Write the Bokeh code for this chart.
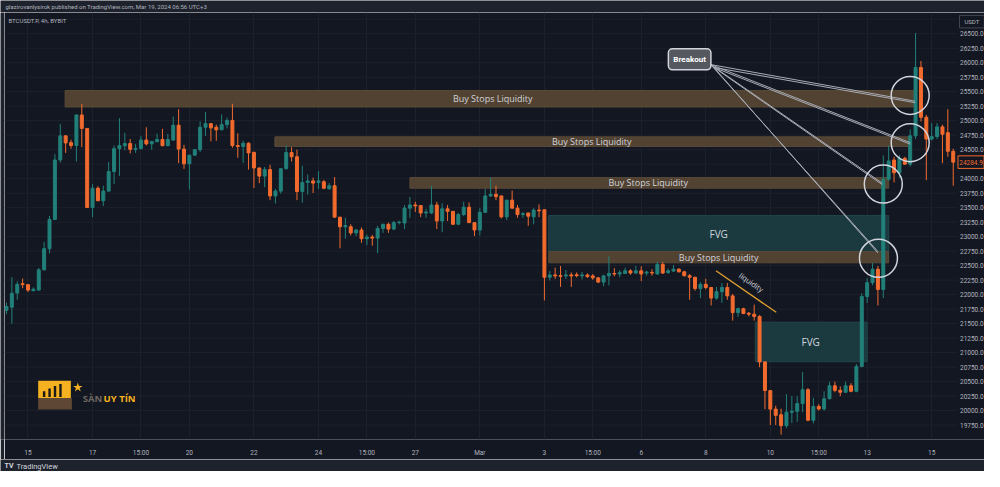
from bokeh.plotting import figure
from bokeh.models import Range1d, FixedTicker, Label
from bokeh.layouts import column, row
from bokeh.embed import file_html
from bokeh.resources import INLINE
from bokeh.core.properties import value

# ---------------- data (BTCUSDT.P 4h, BYBIT) ----------------
opens = [21729, 21783, 22028, 22189, 22172, 22066, 22078, 22427, 22793, 23296,
         24322, 24738, 24621, 24571, 25098, 24866, 23502, 23835, 23619, 23785,
         24122, 24517, 24567, 24605, 24505, 24522, 24666, 24600, 24638, 24676,
         24567, 24666, 24921, 24510, 24256, 24405, 24500, 24887, 24949, 24887,
         24842, 24932, 25004, 24571, 24555, 24610, 24455, 24184, 24044, 24156,
         23702, 23785, 24172, 24450, 24377, 23779, 23935, 23961, 23935, 23945,
         23824, 23878, 23336, 23170, 23170, 23064, 23114, 22964, 22992, 22975,
         23142, 23213, 23130, 23241, 23236, 23491, 23546, 23536, 23408, 23408,
         23546, 23270, 23479, 23436, 23213, 23380, 23508, 23241, 23114, 23419,
         23702, 23729, 23702, 23341, 23629, 23491, 23380, 23408, 23341, 23458,
         23463, 22299, 22339, 22327, 22322, 22339, 22343, 22322, 22339, 22322,
         22289, 22216, 22322, 22365, 22355, 22365, 22410, 22372, 22410, 22372,
         22382, 22355, 22521, 22382, 22405, 22438, 22393, 22327, 22299, 22106,
         22177, 22123, 21940, 22050, 22123, 21978, 21690, 21757, 21679, 21662,
         21624, 20839, 20345, 20025, 19928, 19739, 19971, 19988, 20121, 20360,
         19833, 20071, 20028, 20204, 20427, 20349, 20316, 20427, 20332, 20760,
         21967, 22206, 22438, 22089, 23990, 24322, 24101, 24350, 24250, 24738,
         25918, 25059, 24683, 24726, 24893, 24793, 24472]
highs = [21862, 22299, 22227, 22277, 22180, 22127, 22460, 22909, 23358, 24422,
         24942, 24745, 24671, 25108, 25291, 24870, 23906, 23869, 23878, 24289,
         24571, 25042, 24793, 24683, 24600, 24733, 24887, 24655, 24776, 24859,
         24771, 25070, 25198, 24583, 24410, 24505, 24987, 25153, 24955, 24932,
         25108, 25054, 25291, 24783, 24655, 24627, 24460, 24190, 24201, 24239,
         23824, 24178, 24571, 24543, 24500, 24222, 24073, 24018, 24128, 23978,
         23923, 24028, 23340, 23325, 23213, 23130, 23158, 23037, 23030, 23187,
         23220, 23241, 23270, 23275, 23546, 23685, 23602, 23540, 23479, 23878,
         23602, 23574, 23546, 23440, 23408, 23602, 23590, 23245, 23491, 23824,
         24018, 23878, 23706, 23635, 23795, 23546, 23424, 23412, 23491, 23557,
         23470, 22410, 22465, 22493, 22427, 22382, 22382, 22389, 22365, 22355,
         22295, 22344, 22660, 22455, 22422, 22465, 22438, 22493, 22488, 22410,
         22438, 22565, 22565, 22449, 22510, 22455, 22410, 22355, 22305, 22216,
         22272, 22133, 22133, 22199, 22199, 22011, 21773, 21773, 21700, 21828,
         21645, 20845, 20350, 20083, 20033, 20282, 20248, 20249, 20665, 20388,
         20220, 20111, 20332, 20499, 20499, 20416, 20499, 20472, 20804, 22023,
         22282, 22548, 22493, 24400, 24571, 24377, 24405, 24377, 24849, 26512,
         26030, 25098, 24959, 24959, 24932, 25198, 24517]
lows = [21662, 21496, 21911, 22111, 22045, 22061, 22070, 22420, 22710, 23291,
        24277, 24444, 24517, 24294, 24543, 23500, 23336, 23615, 23529, 23780,
        23906, 24044, 24488, 24434, 24444, 24500, 24571, 24500, 24627, 24565,
        24565, 24655, 24267, 24168, 23812, 24395, 24460, 24738, 24643, 24655,
        24838, 24866, 24533, 24360, 24272, 24156, 23840, 23923, 23852, 23629,
        23574, 23740, 24156, 24294, 23629, 23586, 23724, 23752, 23824, 23818,
        23812, 23330, 22798, 22964, 23020, 23009, 22893, 22854, 22843, 22715,
        23064, 23064, 23114, 23210, 23130, 23325, 23424, 23336, 23325, 23391,
        23130, 23075, 23270, 23203, 23203, 23353, 23236, 23009, 23020, 23408,
        23685, 23629, 23313, 23286, 23479, 23325, 23325, 23187, 23213, 23336,
        21900, 22244, 22272, 22133, 22272, 22133, 22299, 22261, 22289, 22256,
        22199, 22144, 22161, 22315, 22299, 22355, 22344, 22355, 22233, 22327,
        22327, 22344, 22355, 22355, 22394, 22382, 22310, 21911, 22066, 21940,
        22090, 21812, 21911, 21857, 21911, 21551, 21617, 21662, 21624, 21551,
        20748, 20025, 19750, 19750, 19584, 19700, 19784, 19805, 19971, 19816,
        19778, 20000, 20000, 20194, 20316, 20249, 20304, 20316, 20316, 20748,
        21857, 22161, 21812, 21940, 23962, 23935, 24018, 24239, 24210, 24683,
        24987, 23973, 24655, 24683, 24267, 24377, 23878]
closes = [21795, 22023, 22177, 22172, 22078, 22094, 22427, 22793, 23296, 24322,
          24738, 24616, 24571, 25098, 24866, 23502, 23835, 23619, 23785, 24122,
          24517, 24571, 24605, 24505, 24522, 24666, 24600, 24638, 24676, 24567,
          24676, 24921, 24510, 24256, 24405, 24500, 24887, 24949, 24876, 24842,
          24932, 25004, 24571, 24555, 24610, 24444, 24184, 24044, 24156, 23702,
          23785, 24172, 24450, 24377, 23779, 23935, 23961, 23923, 23961, 23835,
          23878, 23336, 23170, 23192, 23064, 23114, 22964, 22992, 22975, 23142,
          23213, 23130, 23241, 23250, 23491, 23546, 23529, 23408, 23424, 23546,
          23270, 23479, 23436, 23213, 23380, 23508, 23241, 23114, 23419, 23702,
          23729, 23690, 23341, 23629, 23491, 23380, 23396, 23353, 23458, 23446,
          22299, 22339, 22322, 22315, 22339, 22322, 22327, 22339, 22310, 22289,
          22216, 22322, 22365, 22355, 22377, 22410, 22372, 22410, 22355, 22389,
          22372, 22521, 22372, 22410, 22438, 22393, 22327, 22299, 22106, 22177,
          22123, 21940, 22050, 22123, 21978, 21690, 21757, 21674, 21662, 21624,
          20839, 20345, 20025, 19917, 19739, 19971, 19988, 20121, 20360, 19833,
          20071, 20028, 20204, 20427, 20349, 20316, 20427, 20332, 20760, 21967,
          22206, 22438, 22089, 23990, 24306, 24101, 24350, 24250, 24738, 25918,
          25059, 24683, 24726, 24893, 24766, 24472, 24284.9]
bar_index = list(range(len(closes)))

# time axis labels (bar index of label, text)
xtick_pos = [4, 16, 25, 34, 46, 58, 67, 76, 88, 100, 109, 118, 130, 142, 151, 160, 172]
xtick_txt = ["15", "17", "15:00", "20", "22", "24", "15:00", "27", "Mar", "3", "15:00",
             "6", "8", "10", "15:00", "13", "15"]
# price scale labels (24250 hidden behind the last-price tag)
ytick_vals = [v for v in range(19750, 26501, 250) if v != 24250]
ygrid_vals = list(range(19750, 26751, 250))
last_price = 24284.9
price_unit = "USDT"

# annotated zones: left/right in bar index, bottom/top in price
zone_left = [10.9, 49.9, 75.0, 100.8, 100.8, 139.2]
zone_right = [168.9, 168.0, 164.0, 164.0, 164.0, 160.0]
zone_top = [25519, 24721, 24018, 23363, 22743, 21524]
zone_bottom = [25236, 24555, 23835, 22743, 22548, 20843]
zone_kind = ["bsl", "bsl", "bsl", "fvg", "bsl", "fvg"]
zone_label_x = [90.4, 108.8, 119.3, 132.4, 132.4, 149.5]
zone_label = ["Buy Stops Liquidity", "Buy Stops Liquidity", "Buy Stops Liquidity",
              "FVG", "Buy Stops Liquidity", "FVG"]

# breakout callout: label and targets (bar index, price)
breakout_at = (127.0, 26059)
break_start = [(130.9, 25968), (131.5, 25918)]
break_targets = [(168.9, 25336), (168.0, 24621), (162.8, 23923), (162.0, 22743)]
circle_x = [168.0, 168.0, 163.0, 162.1]
circle_y = [25436, 24621, 23906, 22626]

# liquidity trend line
liq_x = [131.9, 143.1]
liq_y = [22410, 21695]

# ---------------- styling ----------------
BG = "#131722"
PANEL = "#1e222d"
TXT = "#b2b5be"
UP = "#22807a"
DN = "#f26b2e"
BSL = "#514232"
FVG = "#1b3a40"
FONT = "Roboto"

colors = [UP if c >= o else DN for o, c in zip(opens, closes)]
body_top = [max(o, c) for o, c in zip(opens, closes)]
body_bot = [min(o, c) for o, c in zip(opens, closes)]


# helpers to place decorations at screenshot-like pixel positions
def px_x(x):
    return (x - 6.0) / 5.43


def px_y(y):
    return 26500 - (y - 34) * 16.625


PH = 16.625  # price per pixel

MAIN_W, FRAME_H, XAXIS_H = 980, 434, 13
SX = 953 / 962.0  # candle pane 962 px of the screenshot drawn in 953 px
x_end = px_x(4 + MAIN_W / SX)

p = figure(width=MAIN_W, height=FRAME_H + XAXIS_H, output_backend="svg",
           toolbar_location=None,
           x_range=Range1d(px_x(4), x_end), y_range=Range1d(px_y(455), px_y(12)),
           y_axis_location=None, min_border_left=0, min_border_right=0,
           min_border_top=0, min_border_bottom=XAXIS_H,
           background_fill_color=BG, border_fill_color=BG, outline_line_color=None)

ax = p.xaxis[0]
ax.ticker = FixedTicker(ticks=xtick_pos)
ax.major_label_overrides = {k: v for k, v in zip(xtick_pos, xtick_txt)}
ax.axis_line_color = None
ax.major_tick_line_color = None
ax.minor_tick_line_color = None
ax.major_label_text_color = TXT
ax.major_label_text_font = FONT
ax.major_label_text_font_size = "6.5px"
ax.major_label_standoff = 3
p.xgrid.ticker = FixedTicker(ticks=xtick_pos)
p.xgrid.grid_line_color = "#1d212c"
p.ygrid.visible = False

# horizontal grid of the price pane (stops at the price scale)
p.segment(x0=[px_x(4)] * len(ygrid_vals), x1=[px_x(966)] * len(ygrid_vals),
          y0=ygrid_vals, y1=ygrid_vals, line_color="#1d212c", line_width=1)

# zones
bsl_i = [i for i, k in enumerate(zone_kind) if k == "bsl"]
fvg_i = [i for i, k in enumerate(zone_kind) if k == "fvg"]
p.quad(left=[zone_left[i] for i in fvg_i], right=[zone_right[i] for i in fvg_i],
       top=[zone_top[i] for i in fvg_i], bottom=[zone_bottom[i] for i in fvg_i],
       fill_color=FVG, line_color="#22454b", line_width=1)
p.quad(left=[zone_left[i] for i in bsl_i], right=[zone_right[i] for i in bsl_i],
       top=[zone_top[i] for i in bsl_i], bottom=[zone_bottom[i] for i in bsl_i],
       fill_color=BSL, line_color="#5a4a38", line_width=1)

# candles
p.segment(x0=bar_index, y0=lows, x1=bar_index, y1=highs, line_color=colors, line_width=1)
p.vbar(x=bar_index, width=0.55, top=body_top, bottom=body_bot,
       fill_color=colors, line_color=colors, line_width=1)

# zone labels
p.text(x=[zone_label_x[i] for i in bsl_i],
       y=[(zone_top[i] + zone_bottom[i]) / 2 for i in bsl_i],
       text=[zone_label[i] for i in bsl_i], text_font=value("Open Sans"),
       text_font_size="9px", text_color="#d1d4dc", text_align="center",
       text_baseline="middle")
p.text(x=[zone_label_x[i] for i in fvg_i],
       y=[(zone_top[i] + zone_bottom[i]) / 2 for i in fvg_i],
       text=[zone_label[i] for i in fvg_i], text_font=value("Open Sans"),
       text_font_size="10px", text_color="#d1d4dc", text_align="center",
       text_baseline="middle")

# liquidity line
p.line(x=liq_x, y=liq_y, line_color="#e0a030", line_width=1.3)
p.text(x=[px_x(758)], y=[px_y(292)], text=["liquidity"], angle=-0.61,
       text_font=value("Open Sans"), text_font_size="7.5px", text_color="#d1d4dc",
       text_align="center", text_baseline="middle")

# breakout lines and circles
sx0, sy0, sx1, sy1 = [], [], [], []
for k, (sx, sy) in enumerate(break_start):
    for tx, ty in break_targets:
        sx0.append(sx)
        sy0.append(sy)
        sx1.append(tx)
        sy1.append(ty - 25 * k)
p.segment(x0=sx0, y0=sy0, x1=sx1, y1=sy1, line_color="#a9acb5", line_width=1)
p.scatter(x=circle_x, y=circle_y, marker="circle", size=38, fill_alpha=0,
          line_color="#d1d4dc", line_width=1.5)
p.add_layout(Label(x=breakout_at[0], y=breakout_at[1], text="Breakout",
                   text_align="center", text_baseline="middle", text_font=FONT,
                   text_font_size="8px", text_font_style="bold", text_color="#ffffff",
                   background_fill_color="#55585f", border_line_color="#d1d4dc",
                   border_line_width=1.5, padding=(5, 6), border_radius=4))

# symbol line
p.text(x=[px_x(8)], y=[px_y(20)], text=["BTCUSDT.P, 4h, BYBIT"], text_font=value(FONT),
       text_font_size="6px", text_color=TXT, text_align="left", text_baseline="middle")

# price scale (right side of the pane)
p.text(x=[px_x(968.5)] * len(ytick_vals), y=ytick_vals,
       text=[f"{v:.1f}" for v in ytick_vals], text_font=value(FONT),
       text_font_size="6.5px", text_color=TXT, text_align="left", text_baseline="middle")
p.quad(left=[px_x(968)], right=[px_x(993)], top=[px_y(15)], bottom=[px_y(28)],
       fill_color=BG, line_color="#434651", line_width=1)
p.text(x=[px_x(980.5)], y=[px_y(21.5)], text=[price_unit], text_font=value(FONT),
       text_font_size="6px", text_color=TXT, text_align="center", text_baseline="middle")
p.quad(left=[px_x(966.5)], right=[px_x(992.8)], top=[last_price + 6.5 * PH],
       bottom=[last_price - 6.5 * PH], fill_color=BG, line_color=DN, line_width=1)
p.text(x=[px_x(979.7)], y=[last_price], text=[f"{last_price:.1f}"], text_font=value(FONT),
       text_font_size="6.5px", text_color=DN, text_align="center", text_baseline="middle")

# watermark logo "SÀN UY TÍN"
p.quad(left=[px_x(38)], right=[px_x(71)], top=[px_y(394)], bottom=[px_y(412)],
       fill_color="#f5b120", line_color=None)
p.quad(left=[px_x(38)], right=[px_x(72)], top=[px_y(412)], bottom=[px_y(424)],
       fill_color="#5e4835", line_color=None)
p.vbar(x=[px_x(44), px_x(49.5), px_x(55), px_x(60.5)], width=0.45,
       top=[px_y(405), px_y(402), px_y(399.5), px_y(397.5)], bottom=[px_y(411)] * 4,
       fill_color="#1c1a17", line_color=None)
p.scatter(x=[px_x(78)], y=[px_y(401)], marker="star", size=10, fill_color="#f5b120",
          line_color=None)
p.text(x=[px_x(83)], y=[px_y(412)], text=["SÀN"], text_font=value("Open Sans"),
       text_font_size="9.5px", text_font_style="bold", text_color="#6d6760",
       text_baseline="middle")
p.text(x=[px_x(104)], y=[px_y(412)], text=["UY TÍN"], text_font=value("Open Sans"),
       text_font_size="9.5px", text_font_style="bold", text_color="#f5b120",
       text_baseline="middle")


# ---------------- header / footer / side strip ----------------
def strip(w, h):
    f = figure(width=w, height=h, output_backend="svg", toolbar_location=None,
               x_range=Range1d(0, w), y_range=Range1d(h, 0),
               x_axis_location=None, y_axis_location=None, min_border=0,
               background_fill_color=PANEL, border_fill_color=PANEL,
               outline_line_color=None)
    f.grid.visible = False
    return f


header = strip(984, 12)
header.text(x=[5], y=[5.5], text=["glazirovanlysirok published on TradingView.com, Mar 19, 2024 06:56 UTC+3"],
            text_font=value(FONT), text_font_size="6px", text_color=TXT,
            text_baseline="middle")
footer = strip(984, 12)
footer.text(x=[4], y=[6.5], text=["TV"], text_font=value(FONT), text_font_size="7px",
            text_font_style="bold", text_color="#d1d4dc", text_baseline="middle")
footer.text(x=[16], y=[6.5], text=["TradingView"], text_font=value(FONT),
            text_font_size="7.5px", text_color="#d1d4dc", text_baseline="middle")
left_strip = strip(4, FRAME_H + XAXIS_H)

layout = column(header, row(left_strip, p), footer)
open("out.html", "w").write(file_html(layout, INLINE))
